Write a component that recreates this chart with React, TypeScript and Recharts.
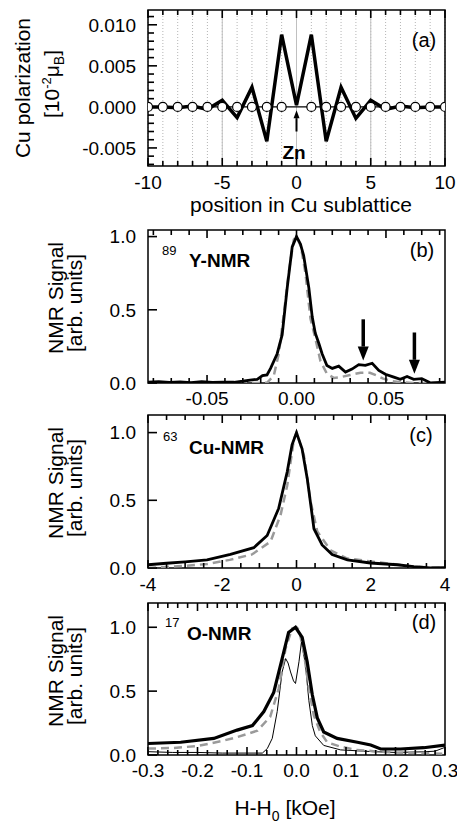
import React from 'react';
import { LineChart, Line, XAxis, YAxis, ReferenceLine, ReferenceArea, CartesianGrid } from 'recharts';

const FONT = '"Liberation Sans", Arial, Helvetica, sans-serif';

// (a) Cu polarization along the Cu sublattice
const positions = [-10, -9, -8, -7, -6, -5, -4, -3, -2, -1, 0, 1, 2, 3, 4, 5, 6, 7, 8, 9, 10];
const cuPolarization = [0, 0, -0.0001, 0.0001, -0.0003, 0.0008, -0.0013, 0.0024, -0.0042, 0.0088, 0.0002,
  0.0088, -0.0042, 0.0024, -0.0014, 0.0008, -0.0003, 0.0001, -0.0001, 0, 0];
const cuSites = [-10, -9, -8, -7, -6, -5, -4, -3, -2, -1, 1, 2, 3, 4, 5, 6, 7, 8, 9, 10];
const cuSiteLevel = [0, 0, 0, 0, 0, 0, 0, 0, 0, 0, 0, 0, 0, 0, 0, 0, 0, 0, 0, 0];
const aXMajor = [-10, -5, 0, 5, 10];
const aYMajor = [-0.005, 0, 0.005, 0.01];

// (b) 89Y-NMR
const bBlackX = [-0.083, -0.077, -0.071, -0.065, -0.059, -0.053, -0.047, -0.041, -0.035, -0.03, -0.026, -0.022, -0.019,
  -0.0165, -0.0145, -0.0108, -0.008, -0.0052, -0.0024, 0, 0.0022, 0.004, 0.0069, 0.0088, 0.0105, 0.0125, 0.0143,
  0.017, 0.02, 0.0236, 0.0274, 0.031, 0.0348, 0.0385, 0.0423, 0.046, 0.0497, 0.0544, 0.058, 0.0618, 0.0655, 0.07,
  0.075, 0.083];
const bBlackY = [0.005, 0.01, 0.004, 0.008, 0.003, 0.009, 0.004, 0.006, 0.005, 0.012, 0.02, 0.025, 0.05,
  0.055, 0.1, 0.2, 0.33, 0.65, 0.93, 1.0, 0.95, 0.87, 0.65, 0.45, 0.34, 0.27, 0.2,
  0.12, 0.1, 0.115, 0.075, 0.095, 0.125, 0.12, 0.135, 0.086, 0.06, 0.04, 0.025, 0.045, 0.025, 0.03,
  0.0, 0.005];
const bDashX = [-0.083, -0.02, -0.0164, -0.0127, -0.0099, -0.0071, -0.0043, -0.0015, 0, 0.0025, 0.005, 0.0078,
  0.0106, 0.0134, 0.017, 0.0208, 0.0246, 0.03, 0.0358, 0.041, 0.045, 0.0485, 0.0525, 0.058, 0.065, 0.083];
const bDashY = [0, 0, 0.003, 0.05, 0.2, 0.47, 0.76, 0.98, 1.0, 0.93, 0.75, 0.44,
  0.3, 0.15, 0.063, 0.035, 0.04, 0.055, 0.07, 0.07, 0.05, 0.03, 0.015, 0.005, 0, 0];
const bArrowX = [0.0373, 0.0659];
const bArrowTop = [0.435, 0.345];
const bArrowTip = [0.153, 0.063];
const bXMajor = [-0.05, 0, 0.05];

// (c) 63Cu-NMR
const cBlackX = [-4, -3.5, -3, -2.41, -1.78, -1.15, -0.79, -0.48, -0.25, -0.12, 0, 0.15, 0.29, 0.47, 0.69, 0.96,
  1.37, 1.99, 2.71, 3.16, 3.6, 4];
const cBlackY = [0.024, 0.035, 0.045, 0.06, 0.1, 0.15, 0.24, 0.44, 0.71, 0.91, 1.0, 0.88, 0.66, 0.29, 0.17, 0.1,
  0.06, 0.037, 0.024, 0.01, 0.0, 0.003];
const cDashX = [-4, -3.4, -3, -2.4, -1.8, -1.2, -0.7, -0.43, -0.25, -0.07, 0, 0.2, 0.38, 0.56, 0.92, 1.37, 2.26,
  3.16, 4];
const cDashY = [0.0, 0.01, 0.015, 0.03, 0.06, 0.1, 0.195, 0.39, 0.61, 0.95, 1.0, 0.83, 0.49, 0.27, 0.13, 0.07, 0.04,
  0.01, 0.0];
const cXMajor = [-4, -2, 0, 2, 4];

// (d) 17O-NMR
const dBlackX = [-0.3, -0.234, -0.167, -0.12, -0.089, -0.066, -0.046, -0.029, -0.016, -0.002, 0.0115, 0.0216,
  0.032, 0.042, 0.055, 0.082, 0.123, 0.15, 0.17, 0.21, 0.257, 0.3];
const dBlackY = [0.09, 0.1, 0.13, 0.195, 0.23, 0.34, 0.49, 0.755, 0.96, 1.0, 0.92, 0.73,
  0.47, 0.29, 0.18, 0.13, 0.1, 0.078, 0.047, 0.047, 0.057, 0.078];
const dDashX = [-0.3, -0.25, -0.2, -0.15, -0.12, -0.079, -0.053, -0.036, -0.022, -0.009, 0, 0.005, 0.015, 0.025,
  0.035, 0.048, 0.062, 0.089, 0.12, 0.156, 0.2, 0.25, 0.3];
const dDashY = [0.05, 0.055, 0.07, 0.11, 0.14, 0.19, 0.3, 0.52, 0.835, 0.99, 1.0, 0.98, 0.8, 0.52,
  0.31, 0.18, 0.1, 0.065, 0.04, 0.03, 0.02, 0.015, 0.01];
const dThinX = [-0.3, -0.25, -0.2, -0.15, -0.1, -0.069, -0.059, -0.049, -0.039, -0.029, -0.022, -0.017, -0.012,
  -0.006, -0.002, 0.005, 0.01, 0.018, 0.025, 0.032, 0.038, 0.055, 0.089, 0.156, 0.2, 0.257, 0.28, 0.3];
const dThinY = [0.026, 0.02, 0.02, 0.015, 0.015, 0.015, 0.05, 0.13, 0.34, 0.65, 0.755, 0.72, 0.65,
  0.58, 0.56, 0.73, 0.885, 0.71, 0.425, 0.23, 0.15, 0.075, 0.04, 0.026, 0.02, 0.025, 0.03, 0.06];
const dXMajor = [-0.3, -0.2, -0.1, 0, 0.1, 0.2, 0.3];

const nmrYMajor = [0, 0.5, 1.0];

type Pt = { x: number; y: number };
const zip = (xs: number[], ys: number[]): Pt[] => xs.map((x, i) => ({ x, y: ys[i] }));

// tick positions between a and b every step
const range = (a: number, b: number, step: number) => {
  const out: number[] = [];
  const n = Math.round((b - a) / step);
  for (let i = 0; i <= n; i++) out.push(Math.round((a + i * step) * 1e6) / 1e6);
  return out;
};
const isIn = (list: number[], v: number) => list.some(m => Math.abs(m - v) < 1e-9);

// axis labels only; the tick marks are drawn by ReferenceLines below
const bottomLabel = (major: number[], fmt: (v: number) => string, gap: number) => (p: any) => {
  if (!isIn(major, p.payload.value)) return <g />;
  return (
    <text x={p.x} y={p.y + gap} dy="0.36em" textAnchor="middle" fontSize={19} fontFamily={FONT} fill="#000">
      {fmt(p.payload.value)}
    </text>
  );
};

const leftLabel = (major: number[], fmt: (v: number) => string) => (p: any) => {
  if (!isIn(major, p.payload.value)) return <g />;
  return (
    <text x={p.x - 12} y={p.y} dy="0.36em" textAnchor="end" fontSize={19} fontFamily={FONT} fill="#000">
      {fmt(p.payload.value)}
    </text>
  );
};

// inward tick marks at the bottom and top edge of the plot
const xTickMark = (len: number) => (p: any) => {
  const lo = Math.max(p.y1, p.y2);
  const hi = Math.min(p.y1, p.y2);
  return (
    <g>
      <line x1={p.x1} x2={p.x1} y1={lo} y2={lo - len} stroke="#000" strokeWidth={1.6} />
      <line x1={p.x1} x2={p.x1} y1={hi} y2={hi + len} stroke="#000" strokeWidth={1.6} />
    </g>
  );
};

// inward tick mark at the left edge of the plot
const yTickMark = (len: number) => (p: any) => {
  const l = Math.min(p.x1, p.x2);
  return <line x1={l} x2={l + len} y1={p.y1} y2={p.y1} stroke="#000" strokeWidth={1.6} />;
};

// vertical arrow drawn from (x1,y1) to the tip at (x2,y2)
const arrow = (w: number, half: number, head: number) => (p: any) => {
  const { x1, y1, x2, y2 } = p;
  const dir = y2 < y1 ? -1 : 1;
  return (
    <g>
      <line x1={x1} y1={y1} x2={x2} y2={y2 - dir * head} stroke="#000" strokeWidth={w} />
      <polygon points={`${x2},${y2} ${x2 - half},${y2 - dir * head} ${x2 + half},${y2 - dir * head}`} fill="#000" />
    </g>
  );
};

interface PanelProps {
  top: number;
  bottom: number;
  plotTop: number;
  plotBottom: number;
  xDomain: [number, number];
  xTicks: number[];
  xMajor: number[];
  xFmt: (v: number) => string;
  yDomain: [number, number];
  yTicks: number[];
  yMajor: number[];
  yFmt: (v: number) => string;
  gap: number;
  children?: React.ReactNode;
}

const Panel: React.FC<PanelProps> = ({ top, bottom, plotTop, plotBottom, xDomain, xTicks, xMajor, xFmt,
  yDomain, yTicks, yMajor, yFmt, gap, children }) => (
  <div style={{ position: 'absolute', left: 0, top }}>
    <LineChart width={457} height={bottom - top} margin={{ top: plotTop - top, right: 12, bottom: 0, left: 0 }}>
      <XAxis dataKey="x" type="number" domain={xDomain} allowDataOverflow ticks={xTicks} interval={0}
        tickSize={0} tickMargin={0} axisLine={false} tickLine={false} height={bottom - plotBottom}
        tick={bottomLabel(xMajor, xFmt, gap)} />
      <YAxis type="number" domain={yDomain} allowDataOverflow ticks={yTicks} interval={0}
        tickSize={0} tickMargin={0} axisLine={false} tickLine={false} width={148} tick={leftLabel(yMajor, yFmt)} />
      {children}
      {xTicks.map(v => (
        <ReferenceLine key={'x' + v} x={v} ifOverflow="visible" shape={xTickMark(isIn(xMajor, v) ? 8 : 5)} />
      ))}
      {yTicks.map(v => (
        <ReferenceLine key={'y' + v} y={v} ifOverflow="visible" shape={yTickMark(isIn(yMajor, v) ? 9 : 6)} />
      ))}
      <ReferenceArea x1={xDomain[0]} x2={xDomain[1]} y1={yDomain[0]} y2={yDomain[1]} fill="none" fillOpacity={0}
        stroke="#000" strokeWidth={1.5} ifOverflow="visible" />
    </LineChart>
  </div>
);

const dashStyle = { stroke: '#9a9a9a', strokeWidth: 2.5, strokeDasharray: '8 5' };

export default function App() {
  return (
    <div style={{ position: 'absolute', left: 0, top: 0, width: 457, height: 823, background: '#fff', fontFamily: FONT }}>
      <Panel top={0} bottom={200} plotTop={10} plotBottom={166} xDomain={[-10, 10]} xTicks={positions}
        xMajor={aXMajor} xFmt={v => String(v)} yDomain={[-0.0072, 0.0118]} yTicks={range(-0.007, 0.011, 0.001)}
        yMajor={aYMajor} yFmt={v => v.toFixed(3)} gap={16}>
        <CartesianGrid horizontal={false} stroke="#b5b5b5" strokeDasharray="1 2" />
        {[-5, 0, 5].map(v => <ReferenceLine key={v} x={v} stroke="#c0c0c0" strokeWidth={1} />)}
        <Line data={zip(positions, cuPolarization)} dataKey="y" stroke="#000" strokeWidth={3.5} dot={false}
          isAnimationActive={false} />
        <Line data={zip(cuSites, cuSiteLevel)} dataKey="y" stroke="#000" strokeWidth={1.2}
          dot={{ r: 4.5, fill: '#fff', stroke: '#000', strokeWidth: 1.2 }} isAnimationActive={false} />
        <ReferenceLine segment={[{ x: 0, y: -0.003 }, { x: 0, y: -0.0004 }]} ifOverflow="visible"
          shape={arrow(2, 3, 8)} />
      </Panel>

      <Panel top={212} bottom={412} plotTop={230} plotBottom={383} xDomain={[-0.083, 0.083]}
        xTicks={range(-0.08, 0.08, 0.01)} xMajor={bXMajor} xFmt={v => v.toFixed(2)} yDomain={[0, 1.045]}
        yTicks={nmrYMajor} yMajor={nmrYMajor} yFmt={v => v.toFixed(1)} gap={15}>
        <Line data={zip(bDashX, bDashY)} dataKey="y" {...dashStyle} dot={false} isAnimationActive={false} />
        <Line data={zip(bBlackX, bBlackY)} dataKey="y" stroke="#000" strokeWidth={2.8} dot={false}
          isAnimationActive={false} />
        {bArrowX.map((x, i) => (
          <ReferenceLine key={x} segment={[{ x, y: bArrowTop[i] }, { x, y: bArrowTip[i] }]} ifOverflow="visible"
            shape={arrow(3.5, 5.5, 14)} />
        ))}
      </Panel>

      <Panel top={405} bottom={600} plotTop={415} plotBottom={568} xDomain={[-4, 4]} xTicks={range(-4, 4, 0.5)}
        xMajor={cXMajor} xFmt={v => String(v)} yDomain={[0, 1.13]} yTicks={nmrYMajor} yMajor={nmrYMajor}
        yFmt={v => v.toFixed(1)} gap={16}>
        <Line data={zip(cDashX, cDashY)} dataKey="y" {...dashStyle} dot={false} isAnimationActive={false} />
        <Line data={zip(cBlackX, cBlackY)} dataKey="y" stroke="#000" strokeWidth={2.8} dot={false}
          isAnimationActive={false} />
      </Panel>

      <Panel top={592} bottom={785} plotTop={603} plotBottom={755} xDomain={[-0.3, 0.3]}
        xTicks={range(-0.3, 0.3, 0.02)} xMajor={dXMajor} xFmt={v => v.toFixed(1)} yDomain={[0, 1.19]}
        yTicks={nmrYMajor} yMajor={nmrYMajor} yFmt={v => v.toFixed(1)} gap={15}>
        <Line data={zip(dThinX, dThinY)} dataKey="y" stroke="#000" strokeWidth={1} dot={false}
          isAnimationActive={false} />
        <Line data={zip(dDashX, dDashY)} dataKey="y" {...dashStyle} dot={false} isAnimationActive={false} />
        <Line data={zip(dBlackX, dBlackY)} dataKey="y" stroke="#000" strokeWidth={3.2} dot={false}
          isAnimationActive={false} />
      </Panel>

      <svg width={457} height={823} style={{ position: 'absolute', left: 0, top: 0, pointerEvents: 'none' }}
        fontFamily={FONT} fill="#000">
        <text transform="translate(22,88) rotate(-90)" textAnchor="middle" dy="0.36em" fontSize={21}>Cu polarization</text>
        <text transform="translate(51,84) rotate(-90)" textAnchor="middle" dy="0.36em" fontSize={21}>
          [10<tspan dy={-8} fontSize={13}>-2</tspan><tspan dy={8}>μ</tspan><tspan dy={5} fontSize={14}>B</tspan><tspan dy={-5}>]</tspan>
        </text>
        <text x={301} y={204} dy="0.36em" textAnchor="middle" fontSize={21}>position in Cu sublattice</text>
        <text x={424} y={40} dy="0.36em" textAnchor="middle" fontSize={20}>(a)</text>
        <text x={294} y={152} dy="0.36em" textAnchor="middle" fontSize={19} fontWeight="bold">Zn</text>

        {[306, 491, 679].map(cy => (
          <g key={cy}>
            <text transform={`translate(55,${cy - 8}) rotate(-90)`} textAnchor="middle" dy="0.36em" fontSize={21}>NMR Signal</text>
            <text transform={`translate(74,${cy - 3}) rotate(-90)`} textAnchor="middle" dy="0.36em" fontSize={21}>[arb. units]</text>
          </g>
        ))}

        <text x={162} y={250} dy="0.36em" fontSize={13}>89</text>
        <text x={189} y={260} dy="0.36em" fontSize={19} fontWeight="bold">Y-NMR</text>
        <text x={422} y={250} dy="0.36em" textAnchor="middle" fontSize={20}>(b)</text>

        <text x={163} y={436} dy="0.36em" fontSize={13}>63</text>
        <text x={189} y={447} dy="0.36em" fontSize={19} fontWeight="bold">Cu-NMR</text>
        <text x={421} y={435} dy="0.36em" textAnchor="middle" fontSize={20}>(c)</text>

        <text x={165} y={622} dy="0.36em" fontSize={13}>17</text>
        <text x={187} y={633} dy="0.36em" fontSize={19} fontWeight="bold">O-NMR</text>
        <text x={424} y={622} dy="0.36em" textAnchor="middle" fontSize={20}>(d)</text>

        <text x={285} y={807} dy="0.36em" textAnchor="middle" fontSize={21}>
          H-H<tspan dy={6} fontSize={14}>0</tspan><tspan dy={-6}> [kOe]</tspan>
        </text>
      </svg>
    </div>
  );
}
